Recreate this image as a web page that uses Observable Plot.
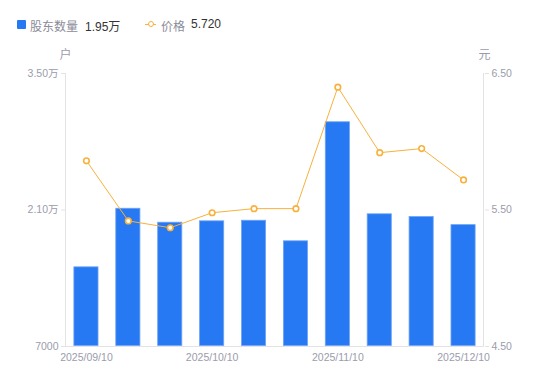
<!DOCTYPE html>
<html><head><meta charset="utf-8">
<script src="https://cdn.jsdelivr.net/npm/d3@7"></script>
<script src="https://cdn.jsdelivr.net/npm/@observablehq/plot@0.6"></script>
<style>
body{margin:0;background:#fff;font-family:"Liberation Sans","Noto Sans CJK SC",sans-serif;}
#wrap{position:relative;width:550px;height:381px;}
#legend{position:absolute;left:0;top:0;width:550px;height:50px;font-size:12px;}
#legend span{position:absolute;top:17px;white-space:nowrap;}
</style></head>
<body><div id="wrap"><div id="legend"></div></div>
<script>
const dates = ["2025/09/10","2025/09/19","2025/09/30","2025/10/10","2025/10/20","2025/10/31","2025/11/10","2025/11/20","2025/11/28","2025/12/10"];
const holders = [15170, 21180, 19750, 19890, 19950, 17840, 30050, 20610, 20330, 19500];
const prices = [5.86, 5.42, 5.37, 5.48, 5.51, 5.51, 6.40, 5.92, 5.95, 5.72];
const xTickLabels = ["2025/09/10","2025/10/10","2025/11/10","2025/12/10"];
const leftTicks = [7000, 21000, 35000];
const rightTicks = [4.5, 5.5, 6.5];
const legendNames = ["股东数量", "价格"];
const legendValues = ["1.95万", "5.720"];

const yMin = 7000, yMax = 35000, pMin = 4.5, pMax = 6.5;
const toY = p => yMin + (p - pMin) / (pMax - pMin) * (yMax - yMin);
const fromY = v => pMin + (v - yMin) / (yMax - yMin) * (pMax - pMin);

const rows = dates.map((d, i) => ({date: d, holders: holders[i], price: prices[i], py: toY(prices[i])}));

const blue = "#2679f2", orange = "#f8b13c", gray = "#9b9cab", axisCol = "#e3e3e6";
const fmtLeft = v => v >= 10000 ? (v / 10000).toFixed(2) + "万" : String(v);
const mL = 65, mR = 66;

const chart = Plot.plot({
  width: 550, height: 381,
  marginLeft: mL, marginRight: mR, marginTop: 73, marginBottom: 35,
  style: {fontFamily: "'Liberation Sans','Noto Sans CJK SC',sans-serif", fontSize: "10.5px", color: gray, background: "#fff"},
  x: {type: "band", domain: dates, paddingInner: 0.4, paddingOuter: 0.2, round: false, axis: null},
  y: {domain: [yMin, yMax], axis: null},
  marks: [
    Plot.barY(rows, {x: "date", y1: yMin, y2: "holders", fill: blue, stroke: "#6ea3f5", strokeWidth: 0.8, inset: 0.5}),
    Plot.ruleY([yMin], {stroke: axisCol}),
    Plot.axisY(leftTicks, {anchor: "left", tickFormat: fmtLeft, tickSize: 4, tickPadding: 3, stroke: axisCol, fill: gray, fontSize: 10.5}),
    Plot.axisY(rightTicks.map(toY), {anchor: "right", tickFormat: v => fromY(v).toFixed(2), tickSize: 4, tickPadding: 3, stroke: axisCol, fill: gray, fontSize: 10.5}),
    Plot.axisX(xTickLabels, {anchor: "bottom", tickSize: 0, tickPadding: 7, fill: gray, fontSize: 10.5, label: null}),
    Plot.line(rows, {x: "date", y: "py", stroke: orange, strokeWidth: 1}),
    Plot.dot(rows, {x: "date", y: "py", r: 2.8, stroke: orange, strokeWidth: 1.6, fill: "#fff"}),
    Plot.text(["户"], {frameAnchor: "top-left", dx: -6, dy: -23, fill: gray, fontSize: 12}),
    Plot.text(["元"], {frameAnchor: "top-right", dx: 6, dy: -23, fill: gray, fontSize: 12})
  ]
});
document.getElementById("wrap").appendChild(chart);
chart.style.position = "absolute"; chart.style.left = "0"; chart.style.top = "0";

// vertical axis lines from the y scale range
const yr = chart.scale("y").range;
const svg = d3.select(chart);
for (const xx of [mL + 0.5, 550 - mR - 0.5]) {
  svg.insert("line", ":first-child").attr("x1", xx).attr("x2", xx).attr("y1", yr[0]).attr("y2", yr[1]).attr("stroke", axisCol);
}

const lg = document.getElementById("legend");
lg.style.zIndex = 2;
lg.innerHTML = `
<div style="position:absolute;left:17px;top:20px;width:9px;height:9px;background:${blue};border-radius:1px"></div>
<span style="left:30px;color:#8b8c99">${legendNames[0]}</span>
<span style="left:85px;color:#333">${legendValues[0]}</span>
<div style="position:absolute;left:145px;top:24px;width:11px;height:1.2px;background:${orange}"></div>
<div style="position:absolute;left:147.5px;top:21px;width:4px;height:4px;border:1.5px solid ${orange};border-radius:50%;background:#fff"></div>
<span style="left:161px;color:#8b8c99">${legendNames[1]}</span>
<span style="left:191px;color:#333">${legendValues[1]}</span>`;
</script></body></html>
